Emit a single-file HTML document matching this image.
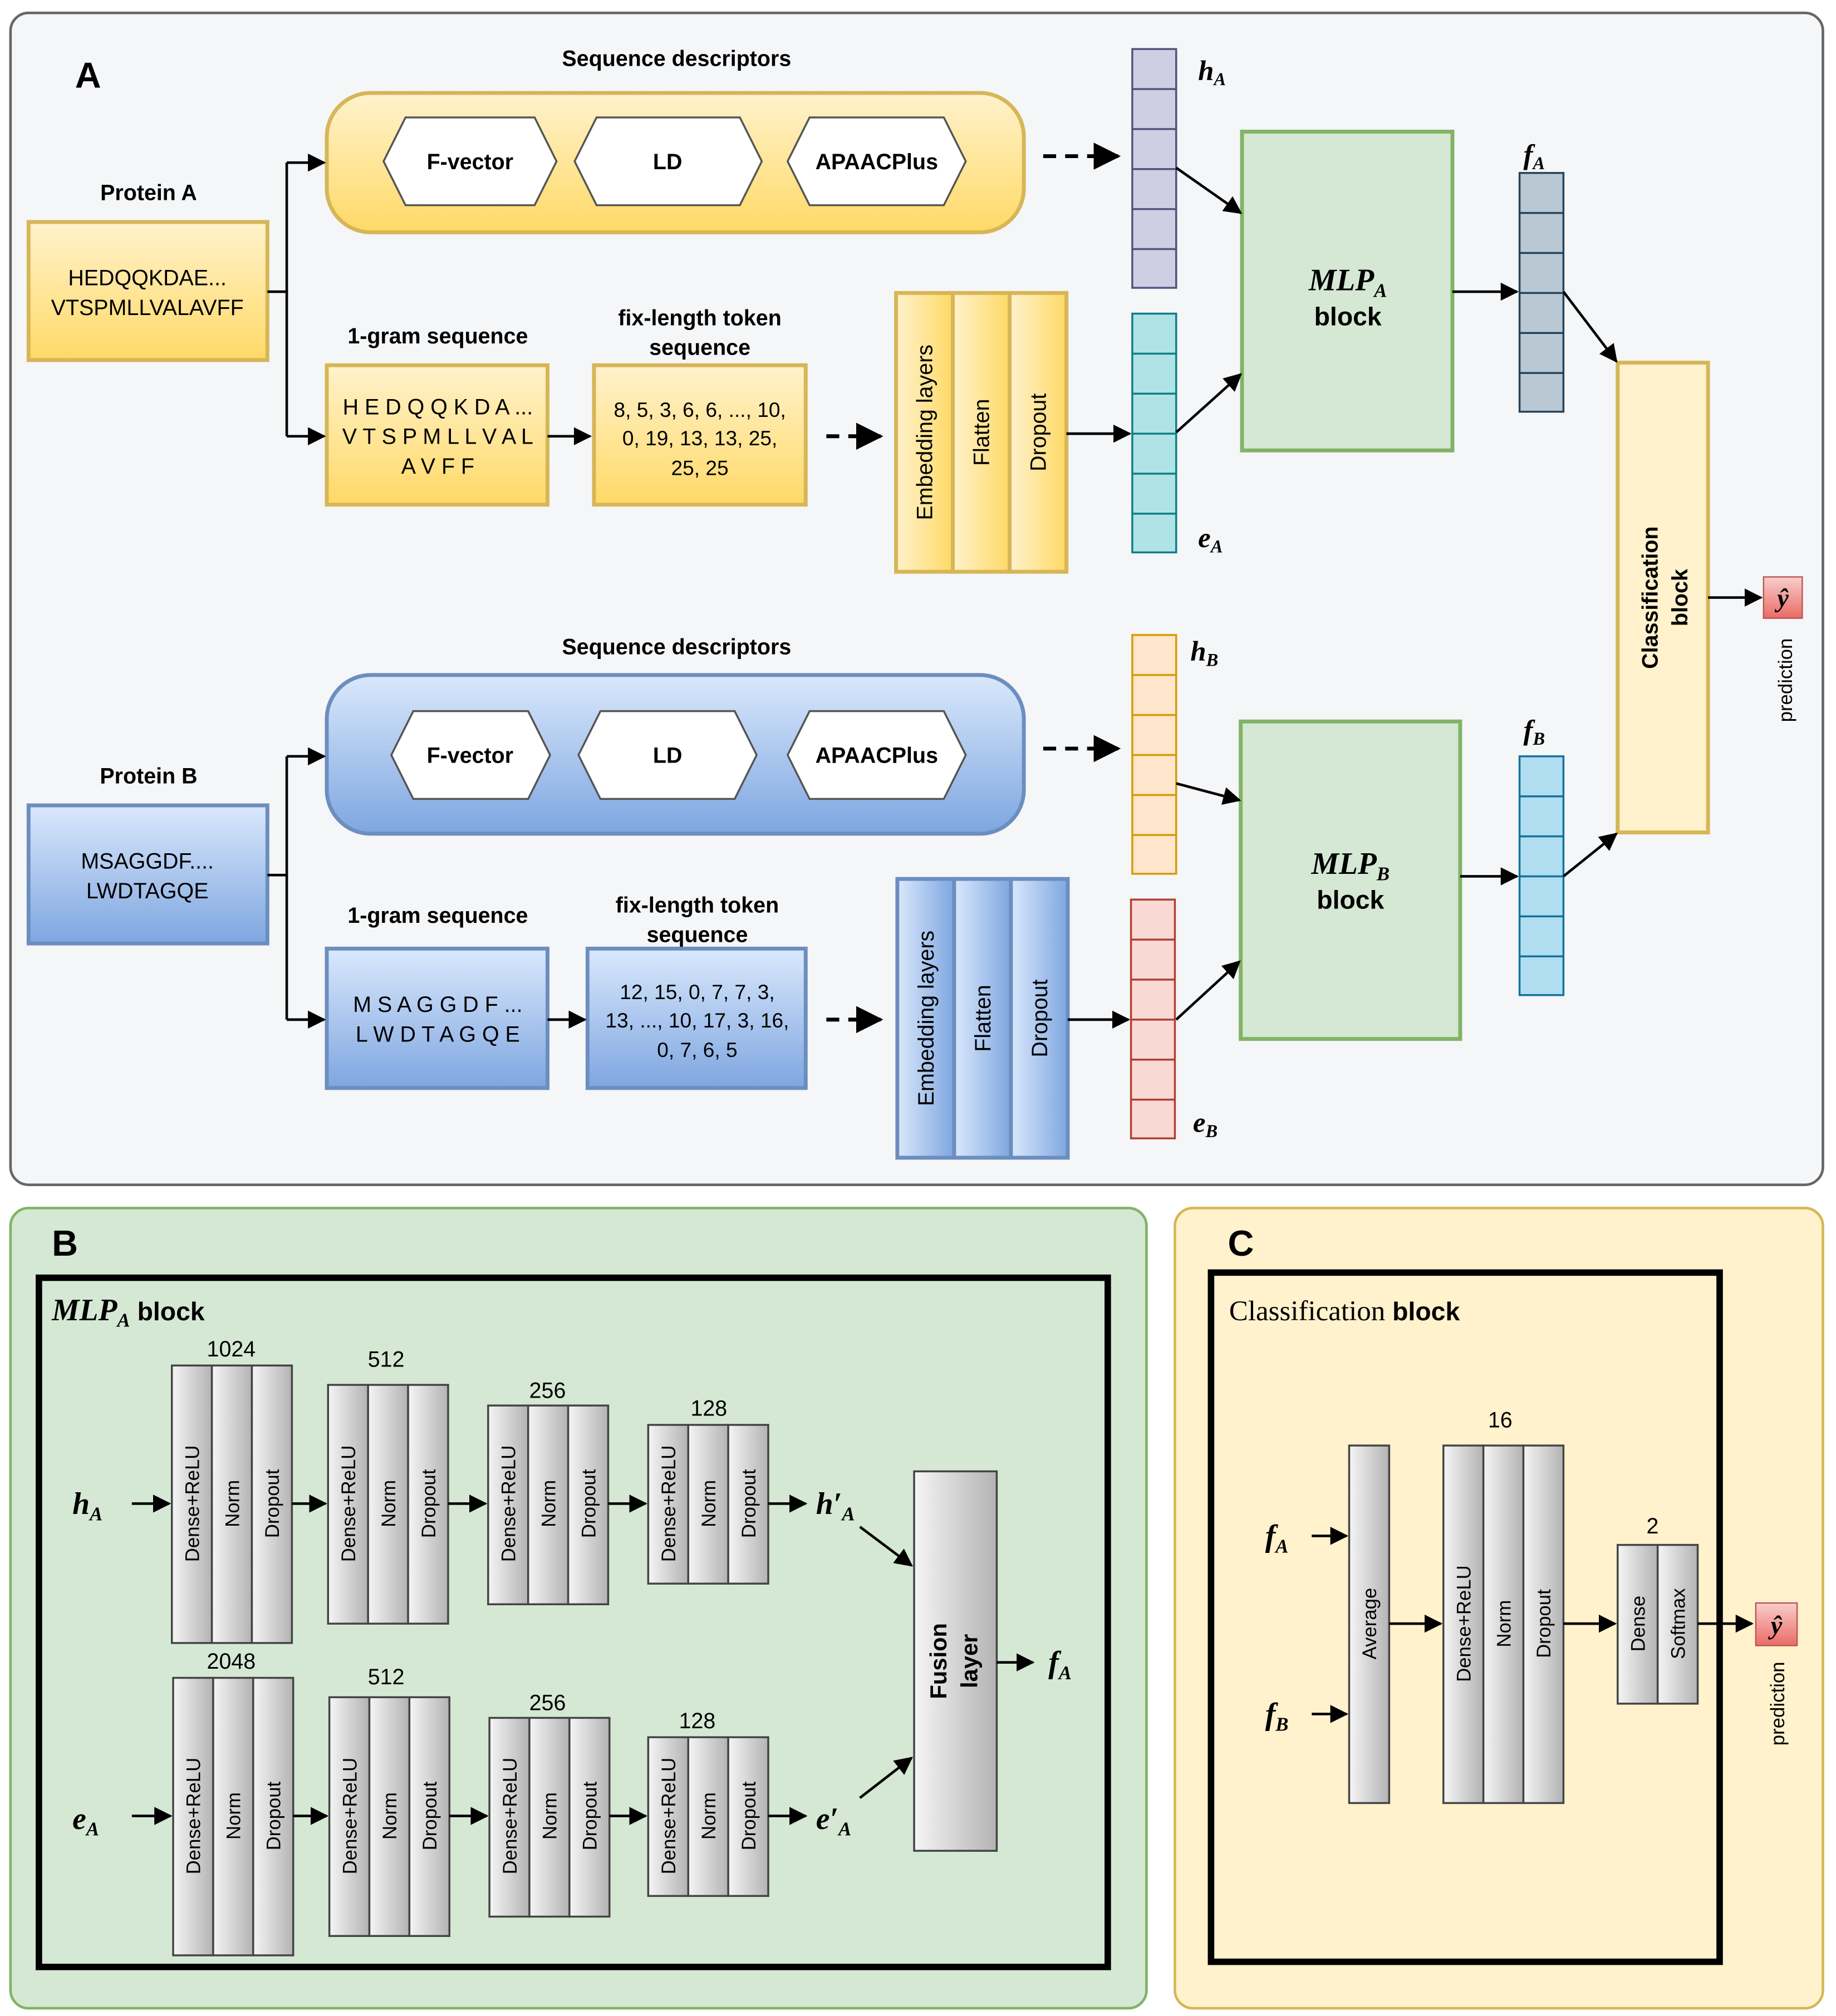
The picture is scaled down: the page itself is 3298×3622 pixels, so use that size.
<!DOCTYPE html>
<html><head><meta charset="utf-8">
<style>html,body{margin:0;padding:0;background:#fff}svg{display:block}
text{font-family:"Liberation Sans",sans-serif;fill:#000}
.b{font-weight:bold}.m{font-family:"Liberation Serif",serif;font-style:italic;font-weight:bold}
</style></head><body>
<svg width="3298" height="3622" viewBox="0 0 1422 1562" xmlns="http://www.w3.org/2000/svg">
<defs>
<marker id="ar" viewBox="0 0 10 10" refX="9" refY="5" markerWidth="7" markerHeight="7" orient="auto-start-reverse"><path d="M0,0 L10,5 L0,10 z" fill="#000"/></marker>
<linearGradient id="yg" x1="0" y1="0" x2="0" y2="1"><stop offset="0" stop-color="#fff2cc"/><stop offset="1" stop-color="#ffd966"/></linearGradient>
<linearGradient id="bg" x1="0" y1="0" x2="0" y2="1"><stop offset="0" stop-color="#dae8fc"/><stop offset="1" stop-color="#7ea6e0"/></linearGradient>
<linearGradient id="ygh" x1="0" y1="0" x2="1" y2="0"><stop offset="0" stop-color="#fff2cc"/><stop offset="1" stop-color="#ffd966"/></linearGradient>
<linearGradient id="bgh" x1="0" y1="0" x2="1" y2="0"><stop offset="0" stop-color="#dae8fc"/><stop offset="1" stop-color="#7ea6e0"/></linearGradient>
<linearGradient id="gg" x1="0" y1="0" x2="1" y2="0"><stop offset="0" stop-color="#f5f5f5"/><stop offset="1" stop-color="#b3b3b3"/></linearGradient>
<linearGradient id="rg" x1="0" y1="0" x2="0" y2="1"><stop offset="0" stop-color="#f8cecc"/><stop offset="1" stop-color="#ea6b66"/></linearGradient>
</defs>

<!-- Panel A -->
<rect x="8" y="10" width="1404" height="908" rx="14" fill="#f5f6f8" stroke="#666" stroke-width="2"/>
<text x="58" y="68" class="b" font-size="28">A</text>
<text x="524" y="51" class="b" font-size="17" text-anchor="middle">Sequence descriptors</text>
<rect x="253" y="72" width="540" height="108" rx="34" fill="url(#yg)" stroke="#d6b656" stroke-width="3"/>
<g fill="#fff" stroke="#555" stroke-width="1.5">
<polygon points="297,125 314,91 414,91 431,125 414,159 314,159"/>
<polygon points="445,125 462,91 573,91 590,125 573,159 462,159"/>
<polygon points="610,125 627,91 731,91 748,125 731,159 627,159"/>
</g>
<g font-size="17" class="b" text-anchor="middle">
<text x="364" y="131">F-vector</text><text x="517" y="131">LD</text><text x="679" y="131">APAACPlus</text>
</g>
<g stroke="#000" stroke-width="3" fill="none">
<line x1="808" y1="121" x2="866" y2="121" stroke-dasharray="10,7" marker-end="url(#ar)"/>
<line x1="808" y1="580" x2="866" y2="580" stroke-dasharray="10,7" marker-end="url(#ar)"/>
<line x1="640" y1="338" x2="682" y2="338" stroke-dasharray="10,7" marker-end="url(#ar)"/>
<line x1="640" y1="790" x2="682" y2="790" stroke-dasharray="10,7" marker-end="url(#ar)"/>
</g>

<!-- vectors -->
<g stroke-width="1.5">
<g fill="#d0cee2" stroke="#56517e"><rect x="877" y="38" width="34" height="185"/>
<path d="M877,69H911M877,100H911M877,131H911M877,162H911M877,193H911"/></g>
<g fill="#b0e3e6" stroke="#0e8088"><rect x="877" y="243" width="34" height="185"/>
<path d="M877,274H911M877,305H911M877,336H911M877,367H911M877,398H911"/></g>
<g fill="#bac8d3" stroke="#23445d"><rect x="1177" y="134" width="34" height="185"/>
<path d="M1177,165H1211M1177,196H1211M1177,227H1211M1177,258H1211M1177,289H1211"/></g>
<g fill="#ffe6cc" stroke="#d79b00"><rect x="877" y="492" width="34" height="185"/>
<path d="M877,523H911M877,554H911M877,585H911M877,616H911M877,647H911"/></g>
<g fill="#fad9d5" stroke="#ae4132"><rect x="876" y="697" width="34" height="185"/>
<path d="M876,728H910M876,759H910M876,790H910M876,821H910M876,852H910"/></g>
<g fill="#b1ddf0" stroke="#10739e"><rect x="1177" y="586" width="34" height="185"/>
<path d="M1177,617H1211M1177,648H1211M1177,679H1211M1177,710H1211M1177,741H1211"/></g>
</g>
<g class="m" font-size="22">
<text x="928" y="62" class="m">h<tspan font-size="14" dy="4">A</tspan></text>
<text x="928" y="424" class="m">e<tspan font-size="14" dy="4">A</tspan></text>
<text x="1180" y="127" class="m">f<tspan font-size="14" dy="4">A</tspan></text>
<text x="922" y="512" class="m">h<tspan font-size="14" dy="4">B</tspan></text>
<text x="924" y="877" class="m">e<tspan font-size="14" dy="4">B</tspan></text>
<text x="1180" y="573" class="m">f<tspan font-size="14" dy="4">B</tspan></text>
</g>

<!-- MLP blocks -->
<rect x="962" y="102" width="163" height="247" fill="#d5e8d4" stroke="#82b366" stroke-width="3"/>
<text x="1044" y="225" text-anchor="middle" class="m" font-size="24">MLP<tspan font-size="15" dy="5">A</tspan></text>
<text x="1044" y="252" text-anchor="middle" class="b" font-size="20">block</text>
<rect x="961" y="559" width="170" height="246" fill="#d5e8d4" stroke="#82b366" stroke-width="3"/>
<text x="1046" y="677" text-anchor="middle" class="m" font-size="24">MLP<tspan font-size="15" dy="5">B</tspan></text>
<text x="1046" y="704" text-anchor="middle" class="b" font-size="20">block</text>

<!-- classification -->
<rect x="1253" y="281" width="70" height="364" fill="#fff2cc" stroke="#d6b656" stroke-width="3"/>
<text transform="translate(1284,463) rotate(-90)" text-anchor="middle" class="b" font-size="17">Classification</text>
<text transform="translate(1307,463) rotate(-90)" text-anchor="middle" class="b" font-size="17">block</text>
<rect x="1366" y="447" width="30" height="32" fill="url(#rg)" stroke="#b85450"/>
<text x="1381" y="470" text-anchor="middle" class="m" font-size="20">ŷ</text>
<text transform="translate(1388,527) rotate(-90)" text-anchor="middle" font-size="15">prediction</text>

<!-- Protein A -->
<text x="115" y="155" class="b" font-size="17" text-anchor="middle">Protein A</text>
<rect x="22" y="172" width="185" height="107" fill="url(#yg)" stroke="#d6b656" stroke-width="3"/>
<text x="114" y="221" font-size="17" text-anchor="middle">HEDQQKDAE...</text>
<text x="114" y="244" font-size="17" text-anchor="middle">VTSPMLLVALAVFF</text>
<text x="339" y="266" class="b" font-size="17" text-anchor="middle">1-gram sequence</text>
<rect x="253" y="283" width="171" height="108" fill="url(#yg)" stroke="#d6b656" stroke-width="3"/>
<g font-size="17" text-anchor="middle"><text x="339" y="321">H E D Q Q K D A ...</text><text x="339" y="344">V T S P M L L V A L</text><text x="339" y="367">A V F F</text></g>
<text x="542" y="252" class="b" font-size="17" text-anchor="middle">fix-length token</text>
<text x="542" y="275" class="b" font-size="17" text-anchor="middle">sequence</text>
<rect x="460" y="283" width="164" height="108" fill="url(#yg)" stroke="#d6b656" stroke-width="3"/>
<g font-size="16" text-anchor="middle"><text x="542" y="323">8, 5, 3, 6, 6, ..., 10,</text><text x="542" y="345">0, 19, 13, 13, 25,</text><text x="542" y="368">25, 25</text></g>
<g fill="url(#ygh)" stroke="#d6b656" stroke-width="3"><rect x="694" y="227" width="44" height="216"/><rect x="738" y="227" width="44" height="216"/><rect x="782" y="227" width="44" height="216"/></g>
<g font-size="17" text-anchor="middle">
<text transform="translate(722,335) rotate(-90)">Embedding layers</text>
<text transform="translate(766,335) rotate(-90)">Flatten</text>
<text transform="translate(810,335) rotate(-90)">Dropout</text>
</g>

<!-- Protein B -->
<text x="524" y="507" class="b" font-size="17" text-anchor="middle">Sequence descriptors</text>
<rect x="253" y="523" width="540" height="123" rx="34" fill="url(#bg)" stroke="#6c8ebf" stroke-width="3"/>
<g fill="#fff" stroke="#555" stroke-width="1.5">
<polygon points="303,585 320,551 409,551 426,585 409,619 320,619"/>
<polygon points="448,585 465,551 569,551 586,585 569,619 465,619"/>
<polygon points="610,585 627,551 731,551 748,585 731,619 627,619"/>
</g>
<g font-size="17" class="b" text-anchor="middle">
<text x="364" y="591">F-vector</text><text x="517" y="591">LD</text><text x="679" y="591">APAACPlus</text>
</g>
<text x="115" y="607" class="b" font-size="17" text-anchor="middle">Protein B</text>
<rect x="22" y="624" width="185" height="107" fill="url(#bg)" stroke="#6c8ebf" stroke-width="3"/>
<text x="114" y="673" font-size="17" text-anchor="middle">MSAGGDF....</text>
<text x="114" y="696" font-size="17" text-anchor="middle">LWDTAGQE</text>
<text x="339" y="715" class="b" font-size="17" text-anchor="middle">1-gram sequence</text>
<rect x="253" y="735" width="171" height="108" fill="url(#bg)" stroke="#6c8ebf" stroke-width="3"/>
<g font-size="17" text-anchor="middle"><text x="339" y="784">M S A G G D F ...</text><text x="339" y="807">L W D T A G Q E</text></g>
<text x="540" y="707" class="b" font-size="17" text-anchor="middle">fix-length token</text>
<text x="540" y="730" class="b" font-size="17" text-anchor="middle">sequence</text>
<rect x="455" y="735" width="169" height="108" fill="url(#bg)" stroke="#6c8ebf" stroke-width="3"/>
<g font-size="16" text-anchor="middle"><text x="540" y="774">12, 15, 0, 7, 7, 3,</text><text x="540" y="796">13, ..., 10, 17, 3, 16,</text><text x="540" y="819">0, 7, 6, 5</text></g>
<g fill="url(#bgh)" stroke="#6c8ebf" stroke-width="3"><rect x="695" y="681" width="44" height="216"/><rect x="739" y="681" width="44" height="216"/><rect x="783" y="681" width="44" height="216"/></g>
<g font-size="17" text-anchor="middle">
<text transform="translate(723,789) rotate(-90)">Embedding layers</text>
<text transform="translate(767,789) rotate(-90)">Flatten</text>
<text transform="translate(811,789) rotate(-90)">Dropout</text>
</g>

<!-- A arrows -->
<g stroke="#000" stroke-width="2" fill="none">
<path d="M207,226H222V126"/><path d="M222,226V338"/>
<path d="M222,126H251" marker-end="url(#ar)"/><path d="M222,338H251" marker-end="url(#ar)"/>
<path d="M424,338H457" marker-end="url(#ar)"/>
<path d="M826,336H875" marker-end="url(#ar)"/>
<path d="M911,130L961,165" marker-end="url(#ar)"/>
<path d="M911,335L961,290" marker-end="url(#ar)"/>
<path d="M1125,226H1175" marker-end="url(#ar)"/>
<path d="M1211,226L1252,280" marker-end="url(#ar)"/>
<path d="M1323,463H1364" marker-end="url(#ar)"/>
<path d="M207,678H222V586"/><path d="M222,678V790"/>
<path d="M222,586H251" marker-end="url(#ar)"/><path d="M222,790H251" marker-end="url(#ar)"/>
<path d="M424,790H453" marker-end="url(#ar)"/>
<path d="M827,790H874" marker-end="url(#ar)"/>
<path d="M911,607L960,620" marker-end="url(#ar)"/>
<path d="M911,790L960,745" marker-end="url(#ar)"/>
<path d="M1131,679H1175" marker-end="url(#ar)"/>
<path d="M1211,679L1252,646" marker-end="url(#ar)"/>
</g>

<!-- Panel B -->
<rect x="8" y="936" width="880" height="620" rx="14" fill="#d5e8d4" stroke="#82b366" stroke-width="2"/>
<text x="40" y="973" class="b" font-size="28">B</text>
<rect x="30" y="990" width="828" height="534" fill="none" stroke="#000" stroke-width="5"/>
<text x="40" y="1023" class="m" font-size="24">MLP<tspan font-size="15" dy="5">A</tspan><tspan dy="-5" font-family="Liberation Sans" font-style="normal" font-size="20"> block</tspan></text>

<g fill="url(#gg)" stroke="#444" stroke-width="1.5">
<rect x="133" y="1058" width="31" height="215"/><rect x="164" y="1058" width="31" height="215"/><rect x="195" y="1058" width="31" height="215"/>
<rect x="254" y="1073" width="31" height="185"/><rect x="285" y="1073" width="31" height="185"/><rect x="316" y="1073" width="31" height="185"/>
<rect x="378" y="1089" width="31" height="154"/><rect x="409" y="1089" width="31" height="154"/><rect x="440" y="1089" width="31" height="154"/>
<rect x="502" y="1104" width="31" height="123"/><rect x="533" y="1104" width="31" height="123"/><rect x="564" y="1104" width="31" height="123"/>
<rect x="134" y="1300" width="31" height="215"/><rect x="165" y="1300" width="31" height="215"/><rect x="196" y="1300" width="31" height="215"/>
<rect x="255" y="1315" width="31" height="185"/><rect x="286" y="1315" width="31" height="185"/><rect x="317" y="1315" width="31" height="185"/>
<rect x="379" y="1331" width="31" height="154"/><rect x="410" y="1331" width="31" height="154"/><rect x="441" y="1331" width="31" height="154"/>
<rect x="502" y="1346" width="31" height="123"/><rect x="533" y="1346" width="31" height="123"/><rect x="564" y="1346" width="31" height="123"/>
<rect x="708" y="1140" width="64" height="294"/>
<rect x="1045" y="1120" width="31" height="277"/>
<rect x="1118" y="1120" width="31" height="277"/><rect x="1149" y="1120" width="31" height="277"/><rect x="1180" y="1120" width="31" height="277"/>
<rect x="1253" y="1197" width="31" height="123"/><rect x="1284" y="1197" width="31" height="123"/>
</g>
<g font-size="15" text-anchor="middle">
<text transform="translate(154,1165) rotate(-90)">Dense+ReLU</text><text transform="translate(185,1165) rotate(-90)">Norm</text><text transform="translate(216,1165) rotate(-90)">Dropout</text>
<text transform="translate(275,1165) rotate(-90)">Dense+ReLU</text><text transform="translate(306,1165) rotate(-90)">Norm</text><text transform="translate(337,1165) rotate(-90)">Dropout</text>
<text transform="translate(399,1165) rotate(-90)">Dense+ReLU</text><text transform="translate(430,1165) rotate(-90)">Norm</text><text transform="translate(461,1165) rotate(-90)">Dropout</text>
<text transform="translate(523,1165) rotate(-90)">Dense+ReLU</text><text transform="translate(554,1165) rotate(-90)">Norm</text><text transform="translate(585,1165) rotate(-90)">Dropout</text>
<text transform="translate(155,1407) rotate(-90)">Dense+ReLU</text><text transform="translate(186,1407) rotate(-90)">Norm</text><text transform="translate(217,1407) rotate(-90)">Dropout</text>
<text transform="translate(276,1407) rotate(-90)">Dense+ReLU</text><text transform="translate(307,1407) rotate(-90)">Norm</text><text transform="translate(338,1407) rotate(-90)">Dropout</text>
<text transform="translate(400,1407) rotate(-90)">Dense+ReLU</text><text transform="translate(431,1407) rotate(-90)">Norm</text><text transform="translate(462,1407) rotate(-90)">Dropout</text>
<text transform="translate(523,1407) rotate(-90)">Dense+ReLU</text><text transform="translate(554,1407) rotate(-90)">Norm</text><text transform="translate(585,1407) rotate(-90)">Dropout</text>
<text transform="translate(1066,1258) rotate(-90)">Average</text>
<text transform="translate(1139,1258) rotate(-90)">Dense+ReLU</text><text transform="translate(1170,1258) rotate(-90)">Norm</text><text transform="translate(1201,1258) rotate(-90)">Dropout</text>
<text transform="translate(1274,1258) rotate(-90)">Dense</text><text transform="translate(1305,1258) rotate(-90)">Softmax</text>
</g>
<g font-size="17" text-anchor="middle">
<text x="179" y="1051">1024</text><text x="299" y="1059">512</text><text x="424" y="1083">256</text><text x="549" y="1097">128</text>
<text x="179" y="1293">2048</text><text x="299" y="1305">512</text><text x="424" y="1325">256</text><text x="540" y="1339">128</text>
<text x="1162" y="1106">16</text><text x="1280" y="1188">2</text>
</g>
<text transform="translate(733,1287) rotate(-90)" text-anchor="middle" class="b" font-size="18">Fusion</text>
<text transform="translate(757,1287) rotate(-90)" text-anchor="middle" class="b" font-size="18">layer</text>
<g font-size="24">
<text x="56" y="1173" class="m">h<tspan font-size="15" dy="5">A</tspan></text>
<text x="56" y="1417" class="m">e<tspan font-size="15" dy="5">A</tspan></text>
<text x="632" y="1173" class="m">h′<tspan font-size="15" dy="5">A</tspan></text>
<text x="632" y="1417" class="m">e′<tspan font-size="15" dy="5">A</tspan></text>
<text x="812" y="1296" class="m">f<tspan font-size="15" dy="5">A</tspan></text>
<text x="980" y="1198" class="m">f<tspan font-size="15" dy="5">A</tspan></text>
<text x="980" y="1336" class="m">f<tspan font-size="15" dy="5">B</tspan></text>
</g>
<g stroke="#000" stroke-width="2" fill="none">
<path d="M102,1165H131" marker-end="url(#ar)"/><path d="M226,1165H252" marker-end="url(#ar)"/><path d="M347,1165H376" marker-end="url(#ar)"/><path d="M471,1165H500" marker-end="url(#ar)"/><path d="M595,1165H624" marker-end="url(#ar)"/>
<path d="M102,1407H132" marker-end="url(#ar)"/><path d="M227,1407H253" marker-end="url(#ar)"/><path d="M348,1407H377" marker-end="url(#ar)"/><path d="M472,1407H500" marker-end="url(#ar)"/><path d="M595,1407H624" marker-end="url(#ar)"/>
<path d="M666,1183L706,1213" marker-end="url(#ar)"/><path d="M666,1393L706,1362" marker-end="url(#ar)"/>
<path d="M772,1288H800" marker-end="url(#ar)"/>
<path d="M1016,1190H1043" marker-end="url(#ar)"/><path d="M1016,1328H1043" marker-end="url(#ar)"/>
<path d="M1076,1258H1116" marker-end="url(#ar)"/><path d="M1211,1258H1251" marker-end="url(#ar)"/><path d="M1315,1258H1357" marker-end="url(#ar)"/>
</g>

<!-- Panel C -->
<rect x="910" y="936" width="502" height="620" rx="14" fill="#fff2cc" stroke="#d6b656" stroke-width="2" fill-opacity="1"/>
<rect x="938" y="986" width="394" height="534" fill="none" stroke="#000" stroke-width="5"/>
<text x="951" y="973" class="b" font-size="28">C</text>
<text x="952" y="1023" font-size="22" font-family="Liberation Serif" style="font-family:'Liberation Serif',serif">Classification<tspan font-family="Liberation Sans" font-weight="bold" font-size="20" style="font-family:'Liberation Sans',sans-serif"> block</tspan></text>
<!-- redraw panel C contents over its background -->
<g fill="url(#gg)" stroke="#444" stroke-width="1.5">
<rect x="1045" y="1120" width="31" height="277"/>
<rect x="1118" y="1120" width="31" height="277"/><rect x="1149" y="1120" width="31" height="277"/><rect x="1180" y="1120" width="31" height="277"/>
<rect x="1253" y="1197" width="31" height="123"/><rect x="1284" y="1197" width="31" height="123"/>
</g>
<g font-size="15" text-anchor="middle">
<text transform="translate(1066,1258) rotate(-90)">Average</text>
<text transform="translate(1139,1258) rotate(-90)">Dense+ReLU</text><text transform="translate(1170,1258) rotate(-90)">Norm</text><text transform="translate(1201,1258) rotate(-90)">Dropout</text>
<text transform="translate(1274,1258) rotate(-90)">Dense</text><text transform="translate(1305,1258) rotate(-90)">Softmax</text>
</g>
<g font-size="17" text-anchor="middle"><text x="1162" y="1106">16</text><text x="1280" y="1188">2</text></g>
<g font-size="24">
<text x="980" y="1198" class="m">f<tspan font-size="15" dy="5">A</tspan></text>
<text x="980" y="1336" class="m">f<tspan font-size="15" dy="5">B</tspan></text>
</g>
<g stroke="#000" stroke-width="2" fill="none">
<path d="M1016,1190H1043" marker-end="url(#ar)"/><path d="M1016,1328H1043" marker-end="url(#ar)"/>
<path d="M1076,1258H1116" marker-end="url(#ar)"/><path d="M1211,1258H1251" marker-end="url(#ar)"/><path d="M1315,1258H1357" marker-end="url(#ar)"/>
</g>
<rect x="1360" y="1242" width="32" height="33" fill="url(#rg)" stroke="#b85450"/>
<text x="1376" y="1266" text-anchor="middle" class="m" font-size="20">ŷ</text>
<text transform="translate(1382,1320) rotate(-90)" text-anchor="middle" font-size="15">prediction</text>
</svg>
</body></html>
